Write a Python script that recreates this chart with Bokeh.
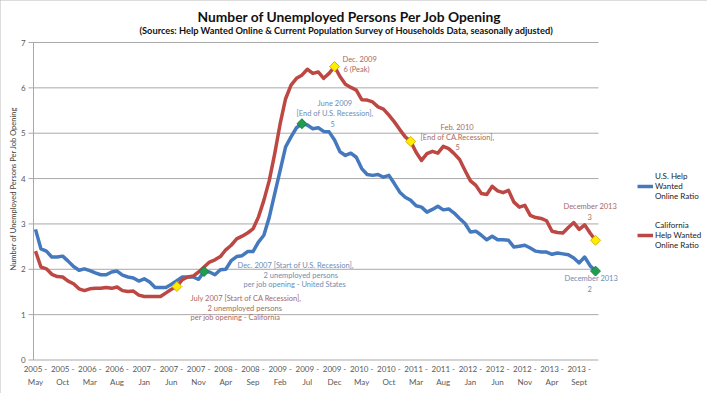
import numpy as np
from bokeh.plotting import figure
from bokeh.models import Range1d, Label, Legend, LegendItem, ColumnDataSource
from bokeh.core.properties import value
from bokeh.embed import file_html
from bokeh.resources import INLINE

# ---------------- data ----------------
title_text = "Number of Unemployed Persons Per Job Opening"
subtitle_text = "(Sources:  Help Wanted Online & Current Population Survey of Households Data, seasonally adjusted)"
y_axis_title = "Number of Unemployed Persons Per Job Opening"

tick_years = ["2005", "2005", "2006", "2006", "2007", "2007", "2007", "2008", "2008", "2009", "2009",
              "2009", "2010", "2010", "2011", "2011", "2012", "2012", "2012", "2013", "2013"]
tick_months = ["May", "Oct", "Mar", "Aug", "Jan", "Jun", "Nov", "Apr", "Sep", "Feb", "Jul",
               "Dec", "May", "Oct", "Mar", "Aug", "Jan", "Jun", "Nov", "Apr", "Sept"]
tick_step_months = 5
y_ticks = [0, 1, 2, 3, 4, 5, 6, 7]

# monthly values, May 2005 .. Dec 2013
us_ratio = [
    2.88, 2.45, 2.40, 2.27, 2.27, 2.29, 2.18, 2.06, 1.98, 2.01,   # 2005 May ..
    1.97, 1.92, 1.88, 1.88, 1.94, 1.96, 1.87, 1.83, 1.81, 1.74,
    1.79, 1.72, 1.60, 1.60, 1.60, 1.67, 1.75, 1.83, 1.83, 1.83,
    1.78, 1.95, 1.94, 1.88, 1.99, 2.00, 2.19, 2.28, 2.30, 2.39,
    2.39, 2.60, 2.75, 3.15, 3.67, 4.18, 4.70, 4.92, 5.12, 5.21,
    5.18, 5.10, 5.12, 5.04, 5.03, 4.85, 4.59, 4.51, 4.56, 4.47,
    4.22, 4.09, 4.07, 4.09, 4.03, 4.07, 3.89, 3.70, 3.59, 3.52,
    3.40, 3.37, 3.26, 3.32, 3.39, 3.31, 3.33, 3.24, 3.12, 3.01,
    2.82, 2.84, 2.75, 2.65, 2.73, 2.65, 2.65, 2.64, 2.49, 2.51,
    2.53, 2.47, 2.40, 2.38, 2.38, 2.33, 2.36, 2.34, 2.32, 2.25,
    2.14, 2.27, 2.08, 1.96,
]
ca_ratio = [
    2.40, 2.05, 2.01, 1.89, 1.84, 1.83, 1.74, 1.68, 1.57, 1.53,
    1.57, 1.58, 1.58, 1.60, 1.58, 1.61, 1.53, 1.51, 1.52, 1.43,
    1.40, 1.40, 1.40, 1.40, 1.48, 1.56, 1.62, 1.77, 1.83, 1.85,
    1.94, 2.05, 2.16, 2.21, 2.28, 2.43, 2.53, 2.67, 2.73, 2.80,
    2.89, 3.15, 3.52, 3.96, 4.55, 5.21, 5.76, 6.06, 6.21, 6.28,
    6.41, 6.32, 6.35, 6.21, 6.32, 6.47, 6.25, 6.08, 6.01, 5.95,
    5.74, 5.73, 5.69, 5.58, 5.53, 5.40, 5.25, 5.08, 4.92, 4.82,
    4.58, 4.40, 4.55, 4.60, 4.56, 4.71, 4.66, 4.55, 4.42, 4.18,
    3.95, 3.85, 3.67, 3.65, 3.83, 3.73, 3.69, 3.74, 3.48, 3.37,
    3.41, 3.19, 3.14, 3.12, 3.07, 2.84, 2.81, 2.80, 2.92, 3.03,
    2.88, 2.98, 2.80, 2.64,
]
us_marker_idx = [31, 49, 103]
ca_marker_idx = [26, 55, 69, 103]

us_name = "U.S. Help\nWanted\nOnline Ratio"
ca_name = "California\nHelp Wanted\nOnline Ratio"

ca_note_lines = [["July 2007 [Start of CA Recession],", "2 unemployed persons", "per job opening - California"],
                 ["Dec. 2009", "6  (Peak)"],
                 ["Feb. 2010", "[End of CA.Recession],", "5"],
                 ["December 2013", "3"]]
us_note_lines = [["Dec. 2007 [Start of U.S. Recession],", "2 unemployed persons", "per job opening - United States"],
                 ["June 2009", "[End of U.S. Recession],", "5"],
                 ["December 2013", "2"]]

# ---------------- styles / layout ----------------
BLUE = "#4479be"
RED = "#bd4742"
BLUE_TXT = "#6d8cb4"
RED_TXT = "#a86a62"
GRID = "#a9a9a9"
TICK_TXT = "#595959"
FONT = "Lato"

W, H = 707, 393
AX_X = 33                      # y axis line (px)
PLOT_R = 598                   # right end of the grid (px)
PLOT_T, PLOT_B = 42, 359.5     # gridline 7 and zero line (px)
YMAX = y_ticks[-1]
ppy = (PLOT_B - PLOT_T) / YMAX
Y0, Y1 = -(H - PLOT_B) / ppy, PLOT_B / ppy
n = len(us_ratio)
ppx = 5.437                    # px per month
X0 = -35 / ppx                 # first month sits at px 35
X1 = X0 + W / ppx


def dx(px):  # pixel -> data x
    return X0 + px / ppx


def dy(py):  # pixel (from top) -> data y
    return (PLOT_B - py) / ppy


months = list(range(n))
src = ColumnDataSource(dict(m=months, us=us_ratio, ca=ca_ratio))

p = figure(width=W, height=H, output_backend="svg", toolbar_location=None, title=None,
           x_axis_location=None, y_axis_location=None,
           x_range=Range1d(X0, X1), y_range=Range1d(Y0, Y1),
           min_border_left=0, min_border_right=0, min_border_top=0, min_border_bottom=0,
           background_fill_color="white", border_fill_color="white")
p.outline_line_color = None
p.styles = {"outline": "2px solid #b8b8b8", "outline-offset": "-2px"}
p.xgrid.visible = False
p.ygrid.visible = False

# horizontal grid lines (incl. the zero line), y axis line and ticks
nt = len(y_ticks)
p.segment(x0=[dx(AX_X)] * nt, x1=[dx(PLOT_R)] * nt, y0=y_ticks, y1=y_ticks,
          line_color=GRID, line_width=1)
p.segment(x0=[dx(AX_X - 5)] * nt, x1=[dx(AX_X)] * nt, y0=y_ticks, y1=y_ticks,
          line_color=GRID, line_width=1)
p.segment(x0=[dx(AX_X)], x1=[dx(AX_X)], y0=[y_ticks[0]], y1=[y_ticks[-1]],
          line_color=GRID, line_width=1)
p.text(x=[dx(22.7)] * nt, y=y_ticks, text=[str(t) for t in y_ticks],
       text_font=value(FONT), text_font_size=value("8px"), text_color=TICK_TXT,
       text_align="center", text_baseline="middle")
p.add_layout(Label(x=dx(12.7), y=dy(270), text=y_axis_title, angle=np.pi / 2,
                   text_font=FONT, text_font_size="7.5px", text_align="left",
                   text_baseline="middle", text_color="#404040"))

us_line = p.line("m", "us", source=src, line_color=BLUE, line_width=3.5, line_join="round")
ca_line = p.line("m", "ca", source=src, line_color=RED, line_width=3.5, line_join="round")

p.scatter([months[i] for i in ca_marker_idx], [ca_ratio[i] for i in ca_marker_idx],
          marker="square", angle=np.pi / 4, size=7, fill_color="#ffee00", line_color="#d8b000", line_width=1)
p.scatter([months[i] for i in us_marker_idx], [us_ratio[i] for i in us_marker_idx],
          marker="square", angle=np.pi / 4, size=7, fill_color="#1f9e4f", line_color="#16803e", line_width=1)

# category tick labels under the zero line
tick_x = [k * tick_step_months for k in range(len(tick_years))]
p.text(x=tick_x, y=[dy(368)] * len(tick_x), text=[f"{y} -" for y in tick_years],
       text_font=value(FONT), text_font_size=value("8px"), text_color=TICK_TXT,
       text_align="center", text_baseline="middle")
p.text(x=tick_x, y=[dy(381)] * len(tick_x), text=tick_months,
       text_font=value(FONT), text_font_size=value("8px"), text_color=TICK_TXT,
       text_align="center", text_baseline="middle")

# titles (left edges)
p.add_layout(Label(x=dx(197), y=dy(16), text=title_text, text_font=FONT,
                   text_font_style="bold", text_font_size="13.8px", text_align="left",
                   text_baseline="middle", text_color="#111111"))
p.add_layout(Label(x=dx(139), y=dy(30), text=subtitle_text, text_font=FONT,
                   text_font_style="bold", text_font_size="9.25px", text_align="left",
                   text_baseline="middle", text_color="#111111"))

# annotation lines: (left x, centre y) in px
ca_note_pos = [[(190, 298), (207, 308), (190, 317)],
               [(342, 59), (343, 69)],
               [(440, 127), (420, 137), (455, 146)],
               [(563, 206), (587, 216)]]
us_note_pos = [[(237, 265), (263, 275), (243, 284)],
               [(317, 103), (296, 113), (330, 123)],
               [(564, 278), (587, 288)]]
for notes, poss, col in ((ca_note_lines, ca_note_pos, RED_TXT), (us_note_lines, us_note_pos, BLUE_TXT)):
    for lines, pos in zip(notes, poss):
        for t, (px, py) in zip(lines, pos):
            p.add_layout(Label(x=dx(px), y=dy(py), text=t, text_font=FONT,
                               text_font_size="7.5px", text_align="left", text_baseline="middle",
                               text_color=col))

# legend right of the plot area (frame-relative px, y from bottom)
legend = Legend(items=[LegendItem(label=us_name, renderers=[us_line]),
                       LegendItem(label=ca_name, renderers=[ca_line])],
                location=(637, H - 250), orientation="vertical",
                border_line_color=None, background_fill_alpha=0, label_text_font=FONT,
                label_text_font_size="8px", label_text_color="#222222",
                label_text_line_height=1.7, glyph_width=16, glyph_height=12,
                label_standoff=2, spacing=19, padding=0, margin=0)
p.add_layout(legend)

open("out.html", "w").write(file_html(p, INLINE))
